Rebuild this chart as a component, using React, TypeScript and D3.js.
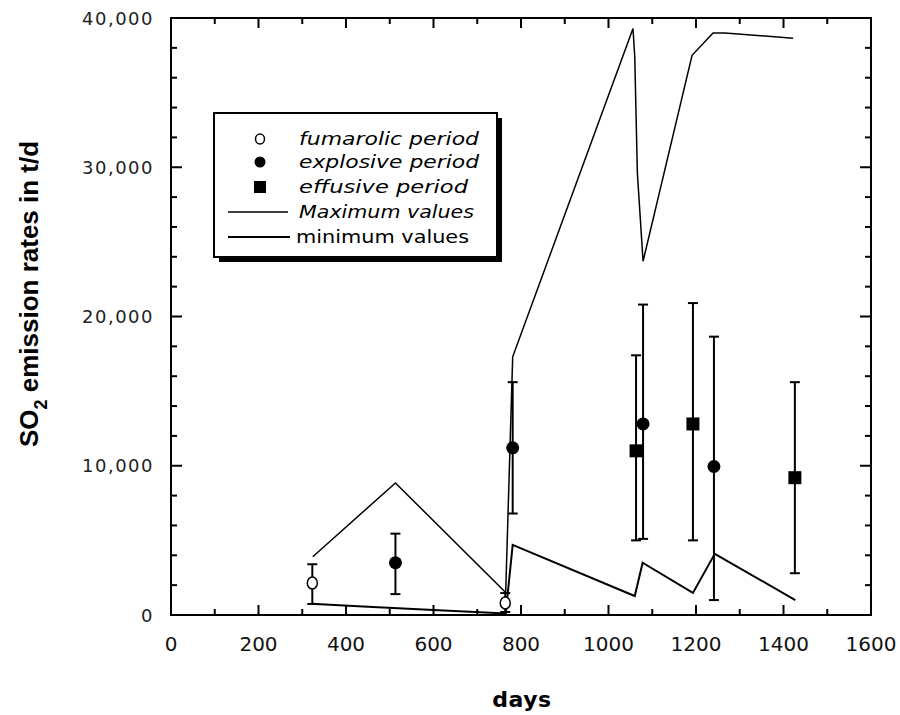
import React from "react";
import * as d3 from "d3";

// ---- data (days, SO2 t/d) ----
const maxDays = [324, 513, 765, 781, 1056, 1060, 1066, 1079, 1191, 1239, 1266, 1422];
const maxVals = [3900, 8850, 1500, 17300, 39300, 37400, 29600, 23700, 37500, 39000, 39000, 38650];

const minDays = [320, 450, 600, 765, 781, 1060, 1078, 1193, 1243, 1427];
const minVals = [750, 550, 330, 100, 4700, 1270, 3500, 1480, 4100, 1000];

const fumDays = [323, 764];
const fumVals = [2150, 800];
const fumLo = [740, 200];
const fumHi = [3400, 1470];

const expDays = [513, 781, 1079, 1241];
const expVals = [3500, 11200, 12800, 9950];
const expLo = [1400, 6800, 5100, 1000];
const expHi = [5450, 15600, 20800, 18650];

const effDays = [1063, 1193, 1426];
const effVals = [11000, 12800, 9200];
const effLo = [5000, 5000, 2800];
const effHi = [17400, 20900, 15600];

const xTicks = [0, 200, 400, 600, 800, 1000, 1200, 1400, 1600];
const yTicks = [0, 10000, 20000, 30000, 40000];
const yTickLabels = ["0", "10,000", "20,000", "30,000", "40,000"];

const legendLabels = ["fumarolic period", "explosive period", "effusive period", "Maximum values", "minimum values"];

export default function App() {
  const x = d3.scaleLinear().domain([0, 1600]).range([171, 871]);
  const y = d3.scaleLinear().domain([0, 40000]).range([615, 18]);
  const [x0, x1] = x.range();
  const [yb, yt] = y.range();

  const line = d3
    .line<[number, number]>()
    .x((d) => x(d[0]))
    .y((d) => y(d[1]));
  const maxPath = line(maxDays.map((d, i) => [d, maxVals[i]] as [number, number])) || "";
  const minPath = line(minDays.map((d, i) => [d, minVals[i]] as [number, number])) || "";

  const xMinor = d3.range(0, 1601, 100);
  const yMinor = d3.range(0, 40001, 2000);

  const errBar = (dx: number, lo: number, hi: number, key: string) => (
    <g key={key} stroke="#000" strokeWidth={2}>
      <line x1={x(dx)} x2={x(dx)} y1={y(lo)} y2={y(hi)} />
      <line x1={x(dx) - 5} x2={x(dx) + 5} y1={y(lo)} y2={y(lo)} />
      <line x1={x(dx) - 5} x2={x(dx) + 5} y1={y(hi)} y2={y(hi)} />
    </g>
  );

  const font = "'DejaVu Sans', Verdana, sans-serif";
  const legX = 214, legY = 113, legW = 283, legH = 144;
  const rowY = [139, 162, 187, 212, 237];
  const legTextLen = [180, 180, 169, 175, 173];

  return (
    <svg width={900} height={715} style={{ position: "absolute", left: 0, top: 0, background: "#fff" }}>
      <rect x={0} y={0} width={900} height={715} fill="#fff" />
      {/* frame */}
      <rect x={x0} y={yt} width={x1 - x0} height={yb - yt} fill="none" stroke="#000" strokeWidth={2} />
      {/* ticks */}
      <g stroke="#000" strokeWidth={2}>
        {xMinor.map((t) => {
          const len = t % 200 === 0 ? 10 : 6;
          return (
            <g key={"xt" + t}>
              <line x1={x(t)} x2={x(t)} y1={yb} y2={yb - len} />
              <line x1={x(t)} x2={x(t)} y1={yt} y2={yt + len} />
            </g>
          );
        })}
        {yMinor.map((t) => {
          const len = t % 10000 === 0 ? 11 : 6;
          return (
            <g key={"yt" + t}>
              <line x1={x0} x2={x0 + len} y1={y(t)} y2={y(t)} />
              <line x1={x1} x2={x1 - len} y1={y(t)} y2={y(t)} />
            </g>
          );
        })}
      </g>
      {/* tick labels */}
      {xTicks.map((t) => (
        <text key={"xl" + t} x={x(t)} y={651} textAnchor="middle" fontFamily={font} fontSize={20} fill="#111">
          {t}
        </text>
      ))}
      {yTicks.map((t, i) => (
        <text key={"yl" + t} x={154} y={y(t) + 6.5} textAnchor="end" fontFamily={font} fontSize={18} letterSpacing={1.5} fill="#222">
          {yTickLabels[i]}
        </text>
      ))}
      {/* axis titles */}
      <text x={x((0 + 1600) / 2) + 1} y={707} textAnchor="middle" fontFamily={font} fontWeight="bold" fontSize={22} letterSpacing={0.5} fill="#000">
        days
      </text>
      <text transform="translate(38,294) rotate(-90)" textAnchor="middle" fontFamily="'Liberation Sans', Arial, sans-serif" fontWeight="bold" fontSize={26} fill="#000">
        SO<tspan dy={9} fontSize={18}>2</tspan><tspan dy={-9}> emission rates in t/d</tspan>
      </text>

      {/* lines */}
      <path d={maxPath} fill="none" stroke="#000" strokeWidth={1.5} />
      <path d={minPath} fill="none" stroke="#000" strokeWidth={2} />

      {/* error bars */}
      {fumDays.map((d, i) => errBar(d, fumLo[i], fumHi[i], "fe" + i))}
      {expDays.map((d, i) => errBar(d, expLo[i], expHi[i], "ee" + i))}
      {effDays.map((d, i) => errBar(d, effLo[i], effHi[i], "fe2" + i))}

      {/* markers */}
      {fumDays.map((d, i) => (
        <ellipse key={"fm" + i} cx={x(d)} cy={y(fumVals[i])} rx={5} ry={6} fill="#fff" stroke="#000" strokeWidth={1.5} />
      ))}
      {expDays.map((d, i) => (
        <circle key={"em" + i} cx={x(d)} cy={y(expVals[i])} r={6.5} fill="#000" />
      ))}
      {effDays.map((d, i) => (
        <rect key={"sm" + i} x={x(d) - 6.5} y={y(effVals[i]) - 6.5} width={13} height={13} fill="#000" />
      ))}

      {/* legend */}
      <rect x={legX + 5} y={legY + 5} width={legW} height={legH} fill="#000" />
      <rect x={legX} y={legY} width={legW} height={legH} fill="#fff" stroke="#000" strokeWidth={2} />
      <ellipse cx={260} cy={rowY[0]} rx={4.5} ry={5} fill="#fff" stroke="#000" strokeWidth={1.5} />
      <circle cx={260} cy={rowY[1]} r={5.5} fill="#000" />
      <rect x={254} y={rowY[2] - 6} width={12} height={12} fill="#000" />
      <line x1={228} x2={288} y1={rowY[3]} y2={rowY[3]} stroke="#000" strokeWidth={1.5} />
      <line x1={228} x2={290} y1={rowY[4]} y2={rowY[4]} stroke="#000" strokeWidth={2} />
      {legendLabels.map((l, i) => (
        <text
          key={"lg" + i}
          x={i === 4 ? 296 : 299}
          y={rowY[i] + 6}
          fontFamily={font}
          fontSize={17}
          fontStyle={i === 4 ? "normal" : "italic"}
          textLength={legTextLen[i]}
          lengthAdjust="spacingAndGlyphs"
          fill="#000"
        >
          {l}
        </text>
      ))}
    </svg>
  );
}
